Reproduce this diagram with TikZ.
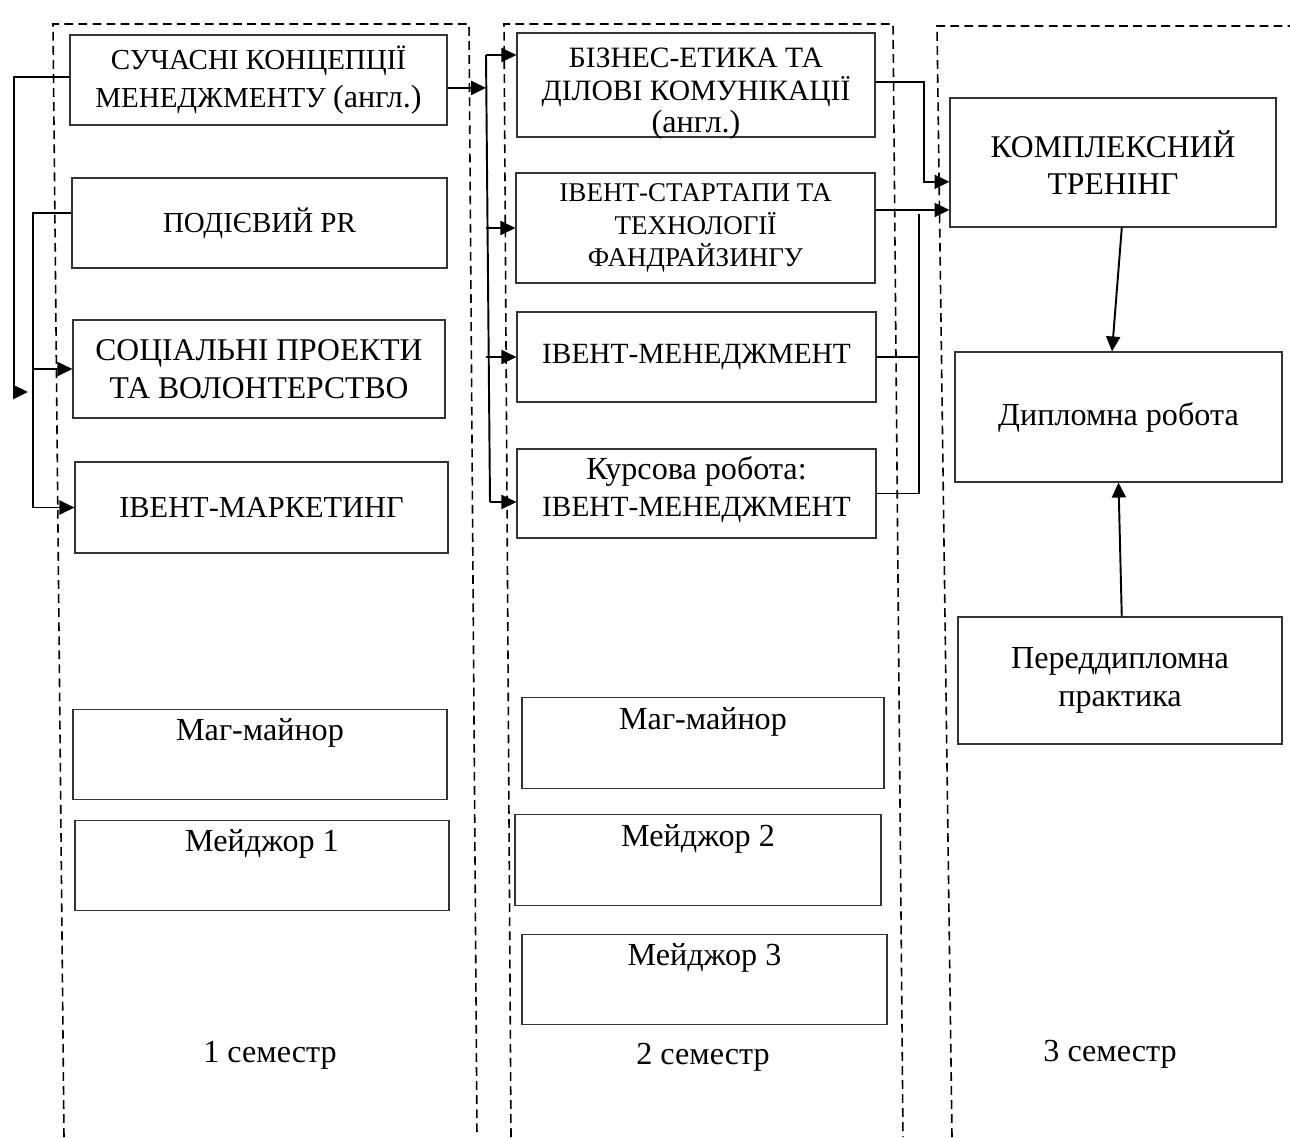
\documentclass[tikz,border=0pt]{standalone}
\usepackage{fontspec}
\setmainfont{Liberation Serif}
\usetikzlibrary{arrows.meta,calc}
\newcommand\lc{\fontsize{18.3}{21.5}\selectfont}

\begin{document}
\begin{tikzpicture}[x=0.02cm, y=-0.02cm,
	box/.style={draw=black!80, line width=0.7pt, align=center, inner sep=0pt, font=\fontsize{16.5}{21.5}\selectfont},
	topbox/.style={box, inner ysep=0pt, text height=18pt, text depth=33.5pt, font=\lc},
	frame/.style={line width=0.9pt, dash pattern=on 5pt off 3pt},
	link/.style={line width=1.1pt},
	arr/.style={link, -{Triangle[length=8.5pt, width=8pt]}},
	sem/.style={font=\lc}]
	%%%%% START %%%%%
	
	\useasboundingbox (0,0) rectangle (1290,1137);
	
	% semester frames
	\draw[frame] (64,1137) -- (53,24) -- (469,24) -- (477,1137);
	\draw[frame] (511,1137) -- (504,24) -- (893,24) -- (903,1137);
	\draw[frame] (952,1137) -- (937,26) -- (1290,26);
	
	% 1 semester
	\node[box, minimum width=7.54cm, minimum height=1.8cm] (sk) at (258.5,80) {СУЧАСНІ КОНЦЕПЦІЇ\\МЕНЕДЖМЕНТУ {\lc(англ.)}};
	\node[box, minimum width=7.5cm, minimum height=1.8cm] (pr) at (259.5,223) {ПОДІЄВИЙ PR};
	\node[box, minimum width=7.44cm, minimum height=1.96cm, font=\fontsize{18}{21.5}\selectfont] (sp) at (259,369) {СОЦІАЛЬНІ ПРОЕКТИ\\ТА ВОЛОНТЕРСТВО};
	\node[box, minimum width=7.46cm, minimum height=1.82cm, font=\fontsize{17.3}{21.5}\selectfont] (im) at (261.5,507.5) {ІВЕНТ-МАРКЕТИНГ};
	\node[topbox, minimum width=7.48cm] (mm1) at (260,754.5) {Маг-майнор};
	\node[topbox, minimum width=7.48cm] (mj1) at (262,865.5) {Мейджор 1};
	
	% 2 semester
	\node[box, minimum width=7.16cm, minimum height=2.08cm, font=\fontsize{16.8}{18.5}\selectfont] (be) at (696,85) {\rule{0pt}{17.6pt}БІЗНЕС-ЕТИКА ТА\\ДІЛОВІ КОМУНІКАЦІЇ\\{\lc\smash{(англ.)}}};
	\node[box, minimum width=7.18cm, minimum height=2.2cm, font=\fontsize{15.4}{18.4}\selectfont] (st) at (695.5,228) {ІВЕНТ-СТАРТАПИ ТА\\ТЕХНОЛОГІЇ\\ФАНДРАЙЗИНГУ};
	\node[box, minimum width=7.18cm, minimum height=1.8cm, font=\fontsize{16.7}{21.5}\selectfont] (em) at (696.5,357) {ІВЕНТ-МЕНЕДЖМЕНТ};
	\node[box, minimum width=7.18cm, minimum height=1.78cm, font=\fontsize{16.7}{21.5}\selectfont] (kr) at (696.5,493.5) {{\lc Курсова робота:}\\ІВЕНТ-МЕНЕДЖМЕНТ\rule[-8pt]{0pt}{8pt}};
	\node[topbox, minimum width=7.24cm] (mm2) at (703,743) {Маг-майнор};
	\node[topbox, minimum width=7.32cm] (mj2) at (698,860) {Мейджор 2};
	\node[topbox, minimum width=7.3cm] (mj3) at (704.5,979.5) {Мейджор 3};
	
	% 3 semester
	\node[box, minimum width=6.52cm, minimum height=2.58cm, font=\fontsize{18}{21.5}\selectfont] (kt) at (1113,162.5) {КОМПЛЕКСНИЙ\\ТРЕНІНГ};
	\node[box, minimum width=6.54cm, minimum height=2.6cm, font=\lc] (dr) at (1118.5,417) {Дипломна робота};
	\node[box, minimum width=6.48cm, minimum height=2.54cm, font=\lc] (pp) at (1120,680.5) {Переддипломна\\практика};
	
	\node[sem] (s1) at (270,1055) {1 семестр};
	\node[sem] (s2) at (703,1057) {2 семестр};
	\node[sem] (s3) at (1110,1054) {3 семестр};
	
	% links, left side
	\coordinate (l1) at (14,77);
	\coordinate (l1e) at (28,392);
	\draw[link] (sk.west |- l1) -- (l1) -- (l1 |- l1e);
	\draw[arr] (l1 |- l1e) -- (l1e);
	
	\coordinate (l2) at (33,213);
	\draw[link] (pr.west |- l2) -- (l2) -- (l2 |- im.west);
	\draw[arr] (l2 |- sp.west) -- (sp.west);
	\draw[arr] (l2 |- im.west) -- (im.west);
	
	% links, middle
	\coordinate (m1) at (486,55);
	\coordinate (m2) at (490,502);
	\draw[arr] ([yshift=-4.5pt]sk.east) -- ([yshift=-4.5pt]sk.east -| m1);
	\draw[link] (m1) -- (m2);
	\draw[arr] (m1) -- (m1 -| be.west);
	\draw[arr] (m1 |- st.west) -- (st.west);
	\draw[arr] (m1 |- em.west) -- (em.west);
	\draw[arr] (m2) -- (m2 -| kr.west);
	
	% links, right side
	\coordinate (r1) at (924,82);
	\coordinate (ka) at ([yshift=-11pt]kt.west);
	\coordinate (kb) at ([yshift=-27pt]kt.west);
	\draw[arr] (be.east |- r1) -- (r1) -- (r1 |- ka) -- (ka);
	\draw[arr] (st.east |- kb) -- (kb);
	\coordinate (r2) at (919,214);
	\draw[link] (r2) -- (r2 |- kr.east);
	\draw[link] (em.east) -- (em.east -| r2);
	\draw[link] (kr.east) -- (kr.east -| r2);
	
	\draw[arr] ([xshift=5pt]kt.south) -- ([xshift=-3.7pt]dr.north);
	\draw[arr] ([xshift=1pt]pp.north) -- (dr.south);
	
	%%%%% END %%%%%
\end{tikzpicture}
\end{document}
